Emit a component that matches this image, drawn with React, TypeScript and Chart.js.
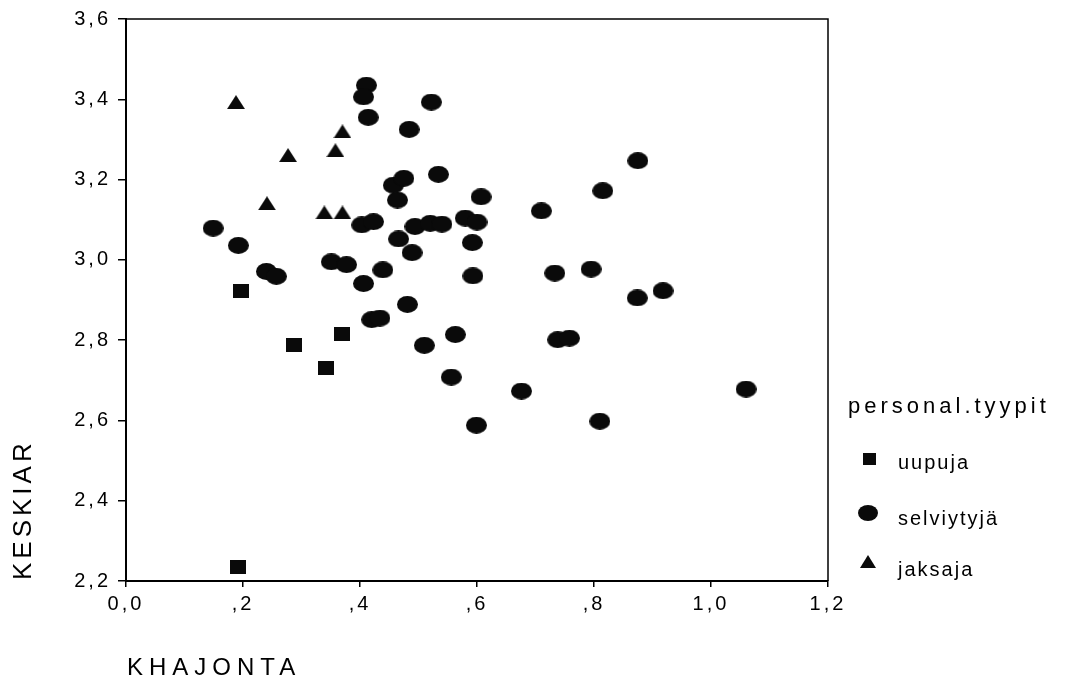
import React, { useEffect, useRef } from 'react';
import { Chart, registerables } from 'chart.js';

Chart.register(...registerables);

// ---- data (KHAJONTA = x, KESKIAR = y) ----
const seriesNames = ['uupuja', 'selviytyjä', 'jaksaja'];

const uupujaX = [0.197, 0.287, 0.342, 0.369, 0.191];
const uupujaY = [2.923, 2.789, 2.731, 2.816, 2.234];

const selviytyjaX = [
  0.149, 0.192, 0.240, 0.257, 0.351, 0.377, 0.403, 0.406, 0.411, 0.406,
  0.414, 0.522, 0.484, 0.534, 0.457, 0.475, 0.464, 0.607, 0.710, 0.815,
  0.875, 0.423, 0.494, 0.520, 0.540, 0.580, 0.600, 0.466, 0.592, 0.489,
  0.439, 0.593, 0.733, 0.795, 0.481, 0.874, 0.918, 0.420, 0.434, 0.563,
  0.510, 0.738, 0.758, 0.556, 0.676, 0.599, 0.810, 1.060,
];
const selviytyjaY = [
  3.079, 3.036, 2.971, 2.959, 2.995, 2.988, 3.087, 2.941, 3.435, 3.406,
  3.355, 3.393, 3.325, 3.213, 3.186, 3.203, 3.149, 3.157, 3.122, 3.172,
  3.247, 3.095, 3.083, 3.091, 3.089, 3.104, 3.094, 3.052, 3.043, 3.018,
  2.975, 2.960, 2.967, 2.977, 2.889, 2.905, 2.923, 2.851, 2.855, 2.814,
  2.787, 2.801, 2.805, 2.708, 2.673, 2.588, 2.598, 2.678,
];

const jaksajaX = [0.188, 0.277, 0.241, 0.358, 0.370, 0.339, 0.370];
const jaksajaY = [3.393, 3.261, 3.141, 3.273, 3.320, 3.118, 3.118];

const xTicks = [0, 0.2, 0.4, 0.6, 0.8, 1.0, 1.2];
const yTicks = [2.2, 2.4, 2.6, 2.8, 3.0, 3.2, 3.4, 3.6];

const xTitle = 'KHAJONTA';
const yTitle = 'KESKIAR';
const legendTitle = 'personal.tyypit';

const FONT = '"Liberation Sans", Arial, Helvetica, sans-serif';

function makeShape(kind: string, w: number, h: number): HTMLCanvasElement {
  const c = document.createElement('canvas');
  c.width = w;
  c.height = h;
  const g = c.getContext('2d')!;
  g.fillStyle = '#0a0a0a';
  g.beginPath();
  if (kind === 'ellipse') {
    g.ellipse(w / 2, h / 2, w / 2, h / 2, 0, 0, Math.PI * 2);
  } else if (kind === 'rect') {
    g.rect(0, 0, w, h);
  } else {
    g.moveTo(w / 2, 0);
    g.lineTo(w, h);
    g.lineTo(0, h);
    g.closePath();
  }
  g.fill();
  return c;
}

function fmtX(v: number): string {
  const s = v.toFixed(1).replace('.', ',');
  if (Math.abs(v) > 1e-9 && s.startsWith('0,')) return s.slice(1);
  return s;
}
function fmtY(v: number): string {
  return v.toFixed(1).replace('.', ',');
}

const decor = {
  id: 'decor',
  beforeDraw(chart: any) {
    (chart.ctx as any).letterSpacing = '3px';
  },
  afterDraw(chart: any) {
    const ctx = chart.ctx as any;
    const a = chart.chartArea;
    ctx.save();
    // frame top + right
    ctx.strokeStyle = '#000';
    ctx.lineWidth = 1.5;
    ctx.beginPath();
    ctx.moveTo(a.left, a.top);
    ctx.lineTo(a.right, a.top);
    ctx.lineTo(a.right, a.bottom);
    ctx.stroke();

    ctx.fillStyle = '#000';
    // x title
    ctx.letterSpacing = '6px';
    ctx.font = `24px ${FONT}`;
    ctx.textAlign = 'left';
    ctx.textBaseline = 'alphabetic';
    ctx.fillText(xTitle, 127, 675);

    // y title rotated
    ctx.save();
    ctx.translate(31, 580);
    ctx.rotate(-Math.PI / 2);
    ctx.font = `26px ${FONT}`;
    ctx.letterSpacing = '4px';
    ctx.textAlign = 'left';
    ctx.fillText(yTitle, 0, 0);
    ctx.restore();

    // legend
    ctx.letterSpacing = '4px';
    ctx.font = `22px ${FONT}`;
    ctx.textAlign = 'left';
    ctx.fillText(legendTitle, 848, 413);

    ctx.font = `20px ${FONT}`;
    ctx.letterSpacing = '2px';
    const baselines = [469, 525, 576];
    seriesNames.forEach((n, i) => ctx.fillText(n, 898, baselines[i]));

    ctx.fillStyle = '#0a0a0a';
    ctx.fillRect(863, 453, 13, 12);
    ctx.beginPath();
    ctx.ellipse(868, 513, 10, 8, 0, 0, Math.PI * 2);
    ctx.fill();
    ctx.beginPath();
    ctx.moveTo(868, 555);
    ctx.lineTo(876, 568);
    ctx.lineTo(860, 568);
    ctx.closePath();
    ctx.fill();
    ctx.restore();
  },
};

export default function App() {
  const ref = useRef<HTMLCanvasElement | null>(null);

  useEffect(() => {
    if (!ref.current) return;
    const rectImg = makeShape('rect', 16, 14);
    const ellImg = makeShape('ellipse', 21, 17);
    const triImg = makeShape('tri', 18, 14);

    const toPts = (xs: number[], ys: number[]) => xs.map((x, i) => ({ x, y: ys[i] }));

    const chart = new Chart(ref.current, {
      type: 'scatter',
      data: {
        datasets: [
          {
            label: seriesNames[1],
            data: toPts(selviytyjaX, selviytyjaY),
            pointStyle: ellImg as any,
            pointRadius: 10,
            backgroundColor: '#000',
            borderColor: '#000',
          },
          {
            label: seriesNames[0],
            data: toPts(uupujaX, uupujaY),
            pointStyle: rectImg as any,
            pointRadius: 8,
            backgroundColor: '#000',
            borderColor: '#000',
          },
          {
            label: seriesNames[2],
            data: toPts(jaksajaX, jaksajaY),
            pointStyle: triImg as any,
            pointRadius: 8,
            backgroundColor: '#000',
            borderColor: '#000',
          },
        ],
      },
      options: {
        animation: false,
        responsive: false,
        events: [],
        layout: { padding: { left: 0, top: 18, right: 246, bottom: 0 } },
        plugins: {
          legend: { display: false },
          tooltip: { enabled: false },
        },
        scales: {
          x: {
            type: 'linear',
            min: 0,
            max: 1.2,
            afterBuildTicks: (s: any) => {
              s.ticks = xTicks.map((v) => ({ value: v }));
            },
            afterFit: (s: any) => {
              s.height = 98;
            },
            ticks: {
              callback: (v: any) => fmtX(Number(v)),
              color: '#000',
              font: { family: FONT, size: 20 },
              padding: 5,
              maxRotation: 0,
              autoSkip: false,
            },
            grid: {
              display: true,
              drawOnChartArea: false,
              drawTicks: true,
              tickLength: 6,
              color: '#000',
              lineWidth: 1.5,
            },
            border: { display: true, color: '#000', width: 2 },
          },
          y: {
            type: 'linear',
            min: 2.2,
            max: 3.6,
            afterBuildTicks: (s: any) => {
              s.ticks = yTicks.map((v) => ({ value: v }));
            },
            afterFit: (s: any) => {
              s.width = 126;
            },
            ticks: {
              callback: (v: any) => fmtY(Number(v)),
              color: '#000',
              font: { family: FONT, size: 20 },
              padding: 7,
              autoSkip: false,
            },
            grid: {
              display: true,
              drawOnChartArea: false,
              drawTicks: true,
              tickLength: 8,
              color: '#000',
              lineWidth: 1.5,
            },
            border: { display: true, color: '#000', width: 2 },
          },
        },
      } as any,
      plugins: [decor],
    });
    return () => chart.destroy();
  }, []);

  return (
    <div style={{ position: 'absolute', left: 0, top: 0, width: 1074, height: 679, background: '#fff' }}>
      <canvas ref={ref} width={1074} height={679} style={{ display: 'block' }} />
    </div>
  );
}
